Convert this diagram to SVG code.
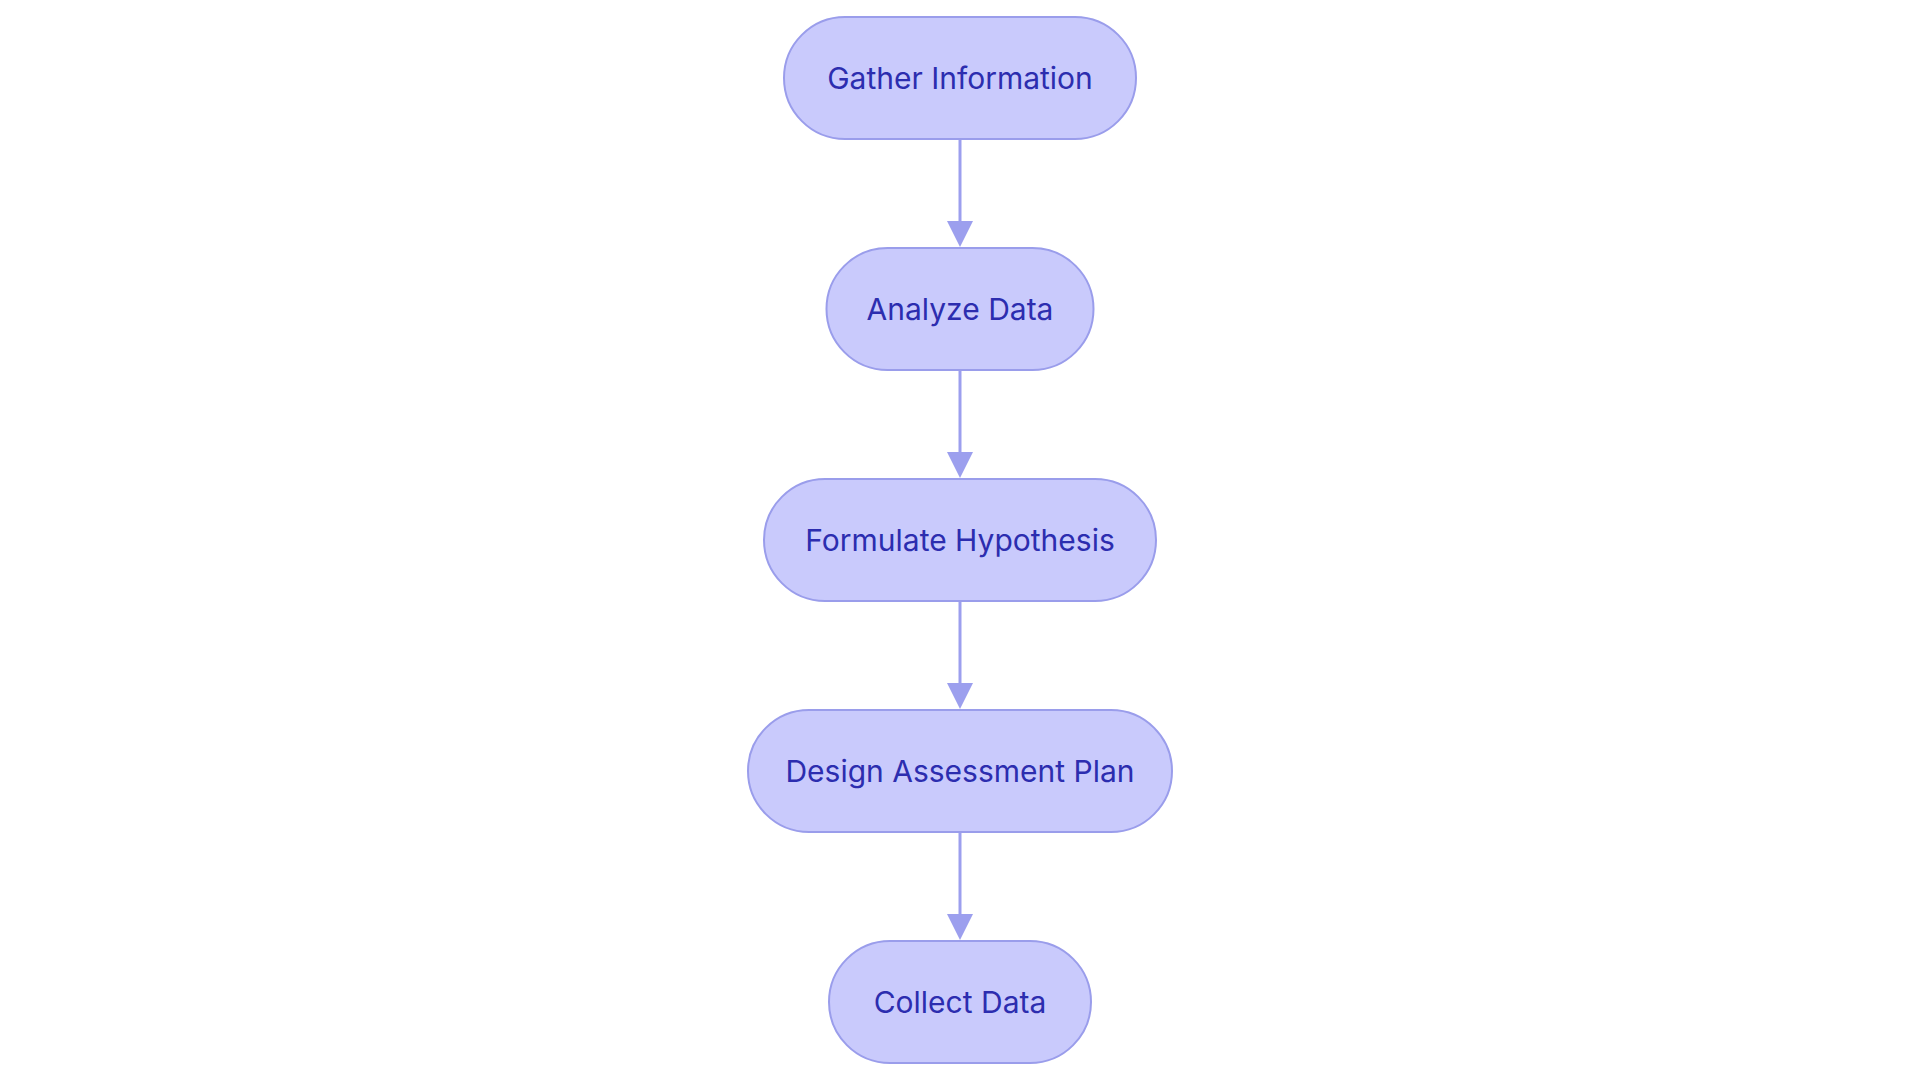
<svg xmlns="http://www.w3.org/2000/svg" width="1920" height="1080" viewBox="0 0 1920 1080">
<defs>
<style>
.node rect{fill:#C9CAFC;stroke:#9A9DEB;stroke-width:2}
.node text{font-family:Inter,"Noto Sans","Liberation Sans",sans-serif;font-size:30px;font-weight:400;fill:#2C2DAF;text-anchor:middle;dominant-baseline:central}
.edge{stroke:#9C9FEE;stroke-width:3;fill:none}
.head{fill:#9C9FEE}
</style>
</defs>
<rect width="1920" height="1080" fill="#FFFFFF"/>
<g id="connectors">
<line class="edge" x1="960" y1="139" x2="960" y2="224"/>
<path class="head" d="M947,221 L973,221 L960,247 Z"/>
<line class="edge" x1="960" y1="370" x2="960" y2="455"/>
<path class="head" d="M947,452 L973,452 L960,478 Z"/>
<line class="edge" x1="960" y1="601" x2="960" y2="686"/>
<path class="head" d="M947,683 L973,683 L960,709 Z"/>
<line class="edge" x1="960" y1="832" x2="960" y2="917"/>
<path class="head" d="M947,914 L973,914 L960,940 Z"/>
</g>
<g id="node-gather" class="node">
<rect x="784" y="17" width="352" height="122" rx="61"/>
<text x="960" y="78">Gather Information</text>
</g>
<g id="node-analyze" class="node">
<rect x="826.5" y="248" width="267" height="122" rx="61"/>
<text x="960" y="309">Analyze Data</text>
</g>
<g id="node-formulate" class="node">
<rect x="764" y="479" width="392" height="122" rx="61"/>
<text x="960" y="540">Formulate Hypothesis</text>
</g>
<g id="node-design" class="node">
<rect x="748" y="710" width="424" height="122" rx="61"/>
<text x="960" y="771">Design Assessment Plan</text>
</g>
<g id="node-collect" class="node">
<rect x="829" y="941" width="262" height="122" rx="61"/>
<text x="960" y="1002">Collect Data</text>
</g>
</svg>
